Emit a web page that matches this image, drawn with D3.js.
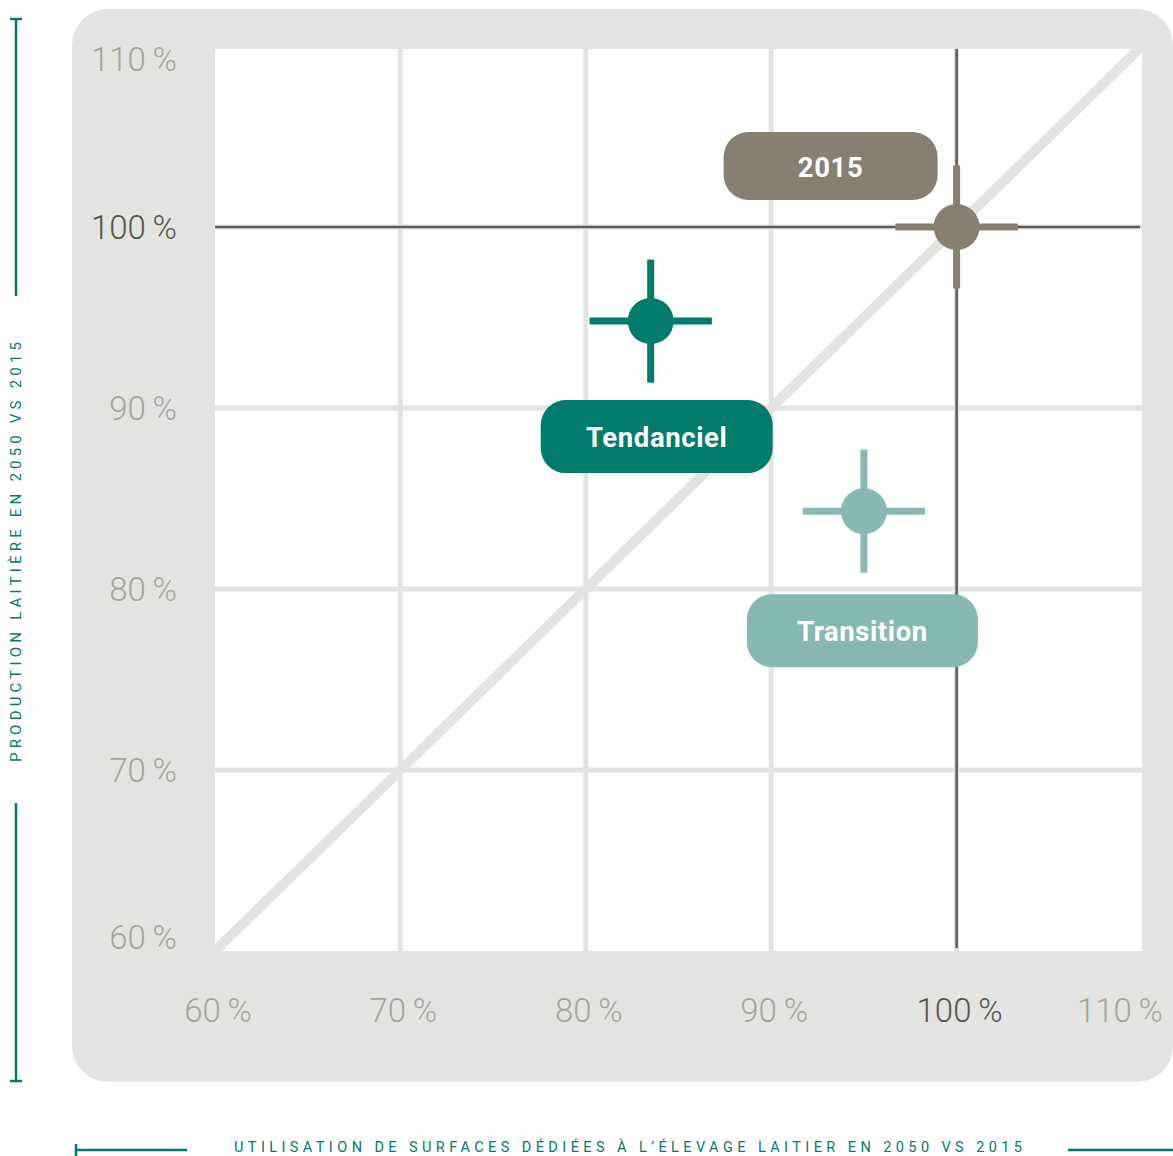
<!DOCTYPE html>
<html>
<head>
<meta charset="utf-8">
<script src="https://cdn.jsdelivr.net/npm/d3@7"></script>
<style>
  html, body { margin: 0; padding: 0; background: #ffffff; }
  svg { display: block; }
</style>
</head>
<body>
<svg id="chart" width="1173" height="1156"></svg>
<script>
// ---- data ----
const scenarios = ["2015", "Tendanciel", "Transition"];
const surfaceValues = [100, 83.5, 95.0];        // x : surfaces dédiées (%)
const productionValues = [100, 94.8, 84.3];     // y : production laitière (%)
const surfaceErr = [3.3, 3.3, 3.3];
const productionErr = [3.4, 3.4, 3.4];
const xTickValues = [60, 70, 80, 90, 100, 110];
const yTickValues = [60, 70, 80, 90, 100, 110];
const xTitle = "UTILISATION DE SURFACES DÉDIÉES À L’ÉLEVAGE LAITIER EN 2050 VS 2015";
const yTitle = "PRODUCTION LAITIÈRE EN 2050 VS 2015";

// ---- style ----
const colors = { "2015": "#867f72", "Tendanciel": "#007b6c", "Transition": "#87b8b1" };
const teal = "#007b6c";
const panelGrey = "#e3e4e2";
const darkLine = "#5f5b53";
const tickGrey = "#a3a49c";
const tickDark = "#57544e";
const font = "Roboto, 'Open Sans', 'DejaVu Sans', sans-serif";

const svg = d3.select("#chart");
const plot = { left: 215, right: 1142, top: 49, bottom: 951 };

const x = d3.scaleLinear().domain([60, 110]).range([plot.left, plot.right]);
const y = d3.scaleLinear().domain([60, 110]).range([plot.bottom, plot.top - 3]);

// panel background
svg.append("rect").attr("x", 72).attr("y", 9).attr("width", 1101).attr("height", 1073)
  .attr("rx", 36).attr("fill", panelGrey);

// white plot area
svg.append("rect").attr("x", plot.left).attr("y", plot.top)
  .attr("width", plot.right - plot.left).attr("height", plot.bottom - plot.top)
  .attr("fill", "#ffffff");

svg.append("clipPath").attr("id", "plotClip").append("rect")
  .attr("x", plot.left).attr("y", plot.top)
  .attr("width", plot.right - plot.left).attr("height", plot.bottom - plot.top);

const g = svg.append("g").attr("clip-path", "url(#plotClip)");

// grid
g.selectAll("line.vgrid").data(xTickValues.slice(1, -1)).join("line")
  .attr("x1", d => x(d)).attr("x2", d => x(d)).attr("y1", plot.top).attr("y2", plot.bottom)
  .attr("stroke", panelGrey).attr("stroke-width", 5);
g.selectAll("line.hgrid").data(yTickValues.slice(1, -1)).join("line")
  .attr("y1", d => y(d)).attr("y2", d => y(d)).attr("x1", plot.left).attr("x2", plot.right)
  .attr("stroke", panelGrey).attr("stroke-width", 5);

// diagonal (x = y)
g.append("line")
  .attr("x1", x(60)).attr("y1", y(60)).attr("x2", x(110)).attr("y2", y(110))
  .attr("stroke", panelGrey).attr("stroke-width", 10);

// 100 % reference lines
g.append("line").attr("x1", x(100)).attr("x2", x(100)).attr("y1", plot.top).attr("y2", plot.bottom - 3)
  .attr("stroke", darkLine).attr("stroke-width", 2.5);
g.append("line").attr("y1", y(100)).attr("y2", y(100)).attr("x1", plot.left).attr("x2", plot.right - 2)
  .attr("stroke", darkLine).attr("stroke-width", 2.5);

// points with error crosses
const pts = scenarios.map((s, i) => ({
  name: s, x: surfaceValues[i], y: productionValues[i],
  ex: surfaceErr[i], ey: productionErr[i], color: colors[s]
}));

const pg = svg.selectAll("g.pt").data(pts).join("g").attr("class", "pt");
pg.append("line")
  .attr("x1", d => x(d.x - d.ex)).attr("x2", d => x(d.x + d.ex))
  .attr("y1", d => y(d.y)).attr("y2", d => y(d.y))
  .attr("stroke", d => d.color).attr("stroke-width", 7);
pg.append("line")
  .attr("x1", d => x(d.x)).attr("x2", d => x(d.x))
  .attr("y1", d => y(d.y - d.ey)).attr("y2", d => y(d.y + d.ey))
  .attr("stroke", d => d.color).attr("stroke-width", 7);
pg.append("circle")
  .attr("cx", d => x(d.x)).attr("cy", d => y(d.y)).attr("r", 23)
  .attr("fill", d => d.color);

// label boxes (placement relative to each point)
const labelLayout = {
  "2015":       { dx0: -233, dx1: -19, dy0: -95, dy1: -27 },
  "Tendanciel": { dx0: -110, dx1: 122, dy0: 79,  dy1: 152 },
  "Transition": { dx0: -117, dx1: 114, dy0: 83,  dy1: 156 }
};
const lg = svg.selectAll("g.lbl").data(pts).join("g").attr("class", "lbl");
lg.append("rect")
  .attr("x", d => x(d.x) + labelLayout[d.name].dx0)
  .attr("y", d => y(d.y) + labelLayout[d.name].dy0)
  .attr("width", d => labelLayout[d.name].dx1 - labelLayout[d.name].dx0)
  .attr("height", d => labelLayout[d.name].dy1 - labelLayout[d.name].dy0)
  .attr("rx", 25).attr("fill", d => d.color);
lg.append("text")
  .attr("x", d => x(d.x) + (labelLayout[d.name].dx0 + labelLayout[d.name].dx1) / 2)
  .attr("y", d => y(d.y) + (labelLayout[d.name].dy0 + labelLayout[d.name].dy1) / 2 + 1)
  .attr("text-anchor", "middle").attr("dominant-baseline", "central")
  .attr("fill", "#ffffff").attr("font-family", font).attr("font-weight", 700)
  .attr("font-size", 27.5).attr("letter-spacing", 0.6).text(d => d.name);

// tick labels
const fmt = d => d + "\u2009%";
svg.selectAll("text.ytick").data(yTickValues).join("text")
  .attr("class", "ytick")
  .attr("x", 177)
  .attr("y", d => Math.min(Math.max(y(d), plot.top + 10), plot.bottom - 14))
  .attr("text-anchor", "end").attr("dominant-baseline", "central")
  .attr("font-family", font).attr("font-weight", 300).attr("font-size", 33)
  .attr("fill", d => d === 100 ? tickDark : tickGrey)
  .text(fmt);
svg.selectAll("text.xtick").data(xTickValues).join("text")
  .attr("class", "xtick")
  .attr("x", d => Math.min(x(d) + 3, 1120))
  .attr("y", 1010)
  .attr("text-anchor", "middle").attr("dominant-baseline", "central")
  .attr("font-family", font).attr("font-weight", 300).attr("font-size", 33)
  .attr("fill", d => d === 100 ? tickDark : tickGrey)
  .text(fmt);

// axis titles with brackets
svg.append("text")
  .attr("x", 628).attr("y", 1152)
  .attr("text-anchor", "middle")
  .attr("font-family", font).attr("font-size", 14.5).attr("fill", teal)
  .attr("textLength", 788).attr("lengthAdjust", "spacing")
  .text(xTitle);
svg.append("text")
  .attr("transform", "translate(16,552) rotate(-90)")
  .attr("text-anchor", "middle").attr("dominant-baseline", "central")
  .attr("font-family", font).attr("font-size", 15).attr("fill", teal)
  .attr("textLength", 420).attr("lengthAdjust", "spacing")
  .text(yTitle);

const br = svg.append("g").attr("stroke", teal).attr("stroke-width", 2.5).attr("fill", "none");
// vertical bracket
br.append("line").attr("x1", 16).attr("x2", 16).attr("y1", 18).attr("y2", 296);
br.append("line").attr("x1", 10).attr("x2", 22).attr("y1", 19).attr("y2", 19);
br.append("line").attr("x1", 16).attr("x2", 16).attr("y1", 803).attr("y2", 1081);
br.append("line").attr("x1", 10).attr("x2", 22).attr("y1", 1081).attr("y2", 1081);
// horizontal bracket
br.append("line").attr("x1", 75).attr("x2", 187).attr("y1", 1150).attr("y2", 1150);
br.append("line").attr("x1", 76).attr("x2", 76).attr("y1", 1144).attr("y2", 1156);
br.append("line").attr("x1", 1068).attr("x2", 1173).attr("y1", 1150).attr("y2", 1150);
</script>
</body>
</html>
